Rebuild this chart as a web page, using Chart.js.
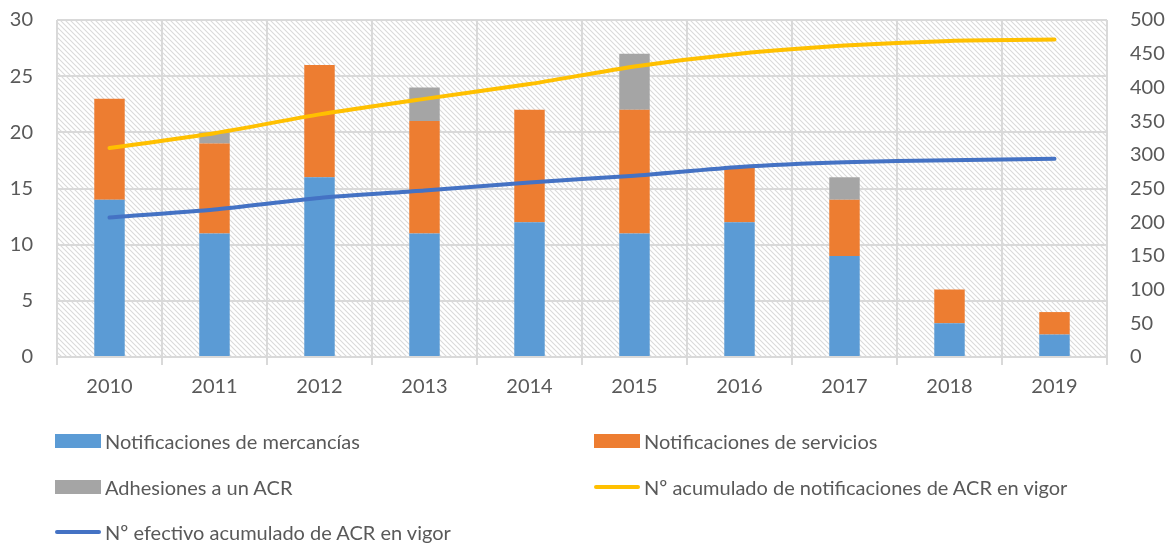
<!DOCTYPE html>
<html>
<head>
<meta charset="utf-8">
<script src="https://cdn.jsdelivr.net/npm/chart.js@4.4.1/dist/chart.umd.min.js"></script>
<style>
  html,body{margin:0;padding:0;background:#fff;}
  #wrap{position:relative;width:1171px;height:544px;}
  #c{position:absolute;left:0;top:0;}
  .lg{position:absolute;font-family:Lato,"Open Sans",sans-serif;font-size:20px;color:#595959;white-space:nowrap;line-height:24px;}
  .lg .sw{position:absolute;left:0;top:5px;width:46px;height:14px;}
  .lg .ln{position:absolute;left:0;top:10px;width:46px;height:4px;border-radius:2px;}
  .lg .tx{position:absolute;left:50px;top:0;}
</style>
</head>
<body>
<div id="wrap">
  <canvas id="c" width="1171" height="544"></canvas>
  <div id="legend"></div>
</div>
<script>
// Data
const years = ['2010','2011','2012','2013','2014','2015','2016','2017','2018','2019'];
const goods    = [14, 11, 16, 11, 12, 11, 12, 9, 3, 2];
const services = [ 9,  8, 10, 10, 10, 11,  5, 5, 3, 2];
const accessions = [0, 1, 0, 3, 0, 5, 0, 2, 0, 0];
const cumNotif   = [310, 332, 360, 383, 405, 431, 450, 462, 469, 471];
const cumInForce = [207, 219, 236, 247, 259, 269, 282, 289, 292, 294];

const GRID='#d9d9d9', TXT='#595959';
const FONT = { family:'Lato, "Open Sans", sans-serif', size:20 };

// hatch fill of plot area
function hatch(){
  const p=document.createElement('canvas'); p.width=5; p.height=5;
  const g=p.getContext('2d');
  g.fillStyle='#fff'; g.fillRect(0,0,5,5);
  g.strokeStyle='#dadada'; g.lineWidth=1.1;
  g.beginPath();
  g.moveTo(-1,-1); g.lineTo(6,6);
  g.moveTo(-1,4); g.lineTo(1,6);
  g.moveTo(4,-1); g.lineTo(6,1);
  g.stroke();
  return p;
}
const hatchBg = {
  id:'hatchBg',
  beforeDraw(ch){
    const a=ch.chartArea, ctx=ch.ctx;
    ctx.save();
    ctx.fillStyle=ctx.createPattern(hatch(),'repeat');
    ctx.fillRect(a.left,a.top,a.right-a.left,a.bottom-a.top);
    ctx.restore();
  }
};
// no extra label padding, keeps plot box fixed
const noPad = s => { s.paddingTop=0; s.paddingBottom=0; s.paddingLeft=0; s.paddingRight=0; };

const chart = new Chart(document.getElementById('c').getContext('2d'), {
  type:'bar',
  data:{
    labels:years,
    datasets:[
      { label:'Notificaciones de mercancías', data:goods, backgroundColor:'#5B9BD5', stack:'s', yAxisID:'y', order:2, barPercentage:0.29, categoryPercentage:1 },
      { label:'Notificaciones de servicios', data:services, backgroundColor:'#ED7D31', stack:'s', yAxisID:'y', order:2, barPercentage:0.29, categoryPercentage:1 },
      { label:'Adhesiones a un ACR', data:accessions, backgroundColor:'#A5A5A5', stack:'s', yAxisID:'y', order:2, barPercentage:0.29, categoryPercentage:1 },
      { type:'line', label:'Nº acumulado de notificaciones de ACR en vigor', data:cumNotif, borderColor:'#FFC000', backgroundColor:'#FFC000', borderWidth:4, pointRadius:0, borderCapStyle:'round', yAxisID:'y1', order:1, tension:0.2 },
      { type:'line', label:'Nº efectivo acumulado de ACR en vigor', data:cumInForce, borderColor:'#4472C4', backgroundColor:'#4472C4', borderWidth:4, pointRadius:0, borderCapStyle:'round', yAxisID:'y1', order:1, tension:0.2 }
    ]
  },
  options:{
    responsive:false, animation:false,
    layout:{ padding:{ top:20, left:0, right:0, bottom:0 } },
    plugins:{ legend:{ display:false }, tooltip:{ enabled:false } },
    scales:{
      x:{ stacked:true,
          grid:{ color:GRID, lineWidth:2, tickLength:8, offset:true },
          border:{ color:GRID, width:2 },
          ticks:{ color:TXT, font:FONT, padding:10, maxRotation:0 },
          afterFit(s){ s.height=187; noPad(s); } },
      y:{ stacked:true, min:0, max:30,
          grid:{ color:GRID, lineWidth:2, drawTicks:false },
          border:{ display:false },
          ticks:{ stepSize:5, color:TXT, font:FONT, padding:24 },
          afterFit(s){ s.width=57; noPad(s); } },
      y1:{ position:'right', min:0, max:500,
          grid:{ display:false, drawTicks:false },
          border:{ display:false },
          ticks:{ stepSize:50, color:TXT, font:FONT, padding:23 },
          afterFit(s){ s.width=64; noPad(s); } }
    }
  },
  plugins:[hatchBg]
});

// Legend in two columns
const cols=[55,594], rows=[429,475,520];
const host=document.getElementById('legend');
chart.data.datasets.forEach((d,i)=>{
  const el=document.createElement('div'); el.className='lg';
  el.style.left=cols[i%2]+'px'; el.style.top=rows[Math.floor(i/2)]+'px';
  const mk = d.type==='line' ? 'ln' : 'sw';
  el.innerHTML=`<span class="${mk}" style="background:${d.borderColor||d.backgroundColor}"></span><span class="tx">${d.label}</span>`;
  host.appendChild(el);
});
</script>
</body>
</html>
